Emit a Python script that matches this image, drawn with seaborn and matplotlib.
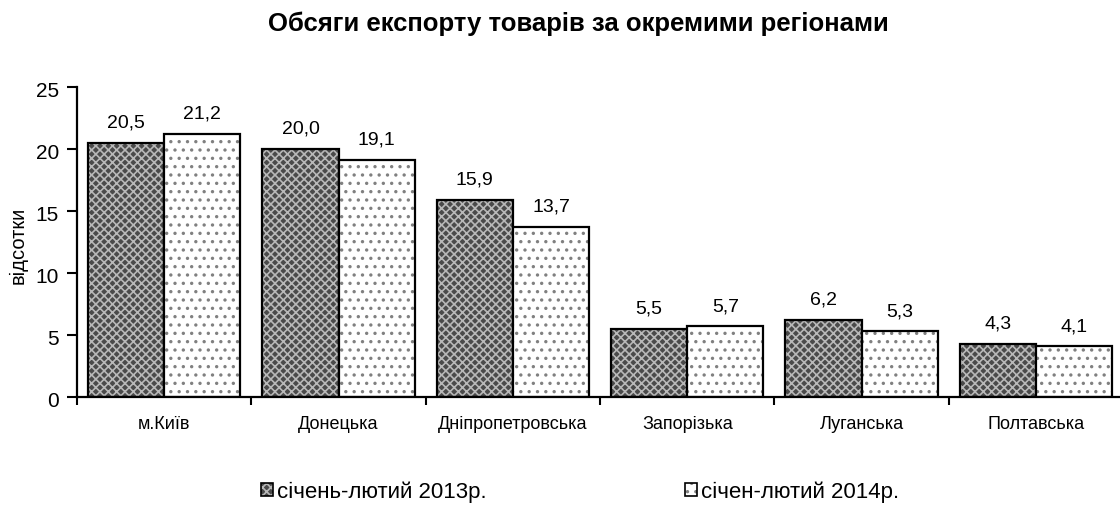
import pandas as pd
import numpy as np
import matplotlib.pyplot as plt
import matplotlib.patches as mpatches
import matplotlib.transforms as mtransforms
import seaborn as sns

# Data
regions = ["м.Київ", "Донецька", "Дніпропетровська", "Запорізька", "Луганська", "Полтавська"]
values_2013 = [20.5, 20.0, 15.9, 5.5, 6.2, 4.3]
values_2014 = [21.2, 19.1, 13.7, 5.7, 5.3, 4.1]
series_names = ["січень-лютий 2013р.", "січен-лютий 2014р."]

data = pd.DataFrame({
    "Регіон": regions * 2,
    "Період": [series_names[0]] * len(regions) + [series_names[1]] * len(regions),
    "Значення": values_2013 + values_2014,
})

sns.set_style("white")
plt.rcParams["font.family"] = ["Liberation Sans", "DejaVu Sans"]
plt.rcParams["hatch.linewidth"] = 1.2
for k in ["text.color", "axes.labelcolor", "xtick.color", "ytick.color"]:
    plt.rcParams[k] = "black"

fig = plt.figure(figsize=(11.2, 5.05), dpi=100)
ax = fig.add_axes([0.0688, 0.2139, 0.934, 0.614])

sns.barplot(data=data, x="Регіон", y="Значення", hue="Період", order=regions,
            hue_order=series_names, width=0.874, palette=["#4a4a4a", "white"],
            edgecolor="black", linewidth=1.6, saturation=1, legend=False, ax=ax)

styles = [("#4a4a4a", "xxxx", "#b8b8b8"), ("white", "..", "#808080")]


def style_patch(p, face, hatch, hcol):
    p.set_facecolor(face)
    p.set_hatch(hatch)
    if hasattr(p, "set_hatchcolor"):
        p.set_hatchcolor(hcol)
    else:
        p._hatch_color = plt.matplotlib.colors.to_rgba(hcol)


for cont, (face, hatch, hcol) in zip(ax.containers, styles):
    for p in cont:
        style_patch(p, face, hatch, hcol)
    ax.bar_label(cont, labels=[f"{v:.1f}".replace(".", ",") for v in cont.datavalues],
                 padding=8, fontsize=14)

ax.set_ylim(0, 25)
ax.set_yticks([0, 5, 10, 15, 20, 25])
ax.set_xlim(-0.5, len(regions) - 0.5)
ax.set_xlabel("")
ax.set_ylabel("відсотки", fontsize=14.5)
ax.yaxis.set_label_coords(-0.047, 0.49)
ax.tick_params(axis="y", labelsize=15, direction="out", length=7, width=1.5, left=True, pad=6)
shift = mtransforms.ScaledTranslation(0, -3 / 100, fig.dpi_scale_trans)
for lbl in ax.get_yticklabels():
    lbl.set_transform(lbl.get_transform() + shift)

ax.set_xticks(np.arange(len(regions)))
ax.set_xticklabels(regions, fontsize=13, family=["Liberation Sans Narrow", "Liberation Sans"])
ax.tick_params(axis="x", length=0, pad=13.5)
ax.set_xticks(np.arange(len(regions) + 1) - 0.5, minor=True)
ax.tick_params(axis="x", which="minor", direction="out", length=6, width=1.5, bottom=True)

sns.despine(ax=ax, top=True, right=True)
for s in ["left", "bottom"]:
    ax.spines[s].set_linewidth(1.6)
    ax.spines[s].set_color("black")

fig.suptitle("Обсяги експорту товарів за окремими регіонами", x=0.516, y=0.977,
             fontsize=18.5, fontweight="bold")

handles = []
for face, hatch, hcol in styles:
    h = mpatches.Rectangle((0, 0), 1, 1, edgecolor="black", linewidth=1.2)
    style_patch(h, face, hatch, hcol)
    handles.append(h)
fig.legend(handles, series_names, loc="center", bbox_to_anchor=(0.518, 0.026), ncol=2,
           frameon=False, fontsize=16, handlelength=0.55, handleheight=0.55,
           handletextpad=0.2, columnspacing=8.9, borderpad=0.2)

plt.savefig("out.png", dpi=100)
